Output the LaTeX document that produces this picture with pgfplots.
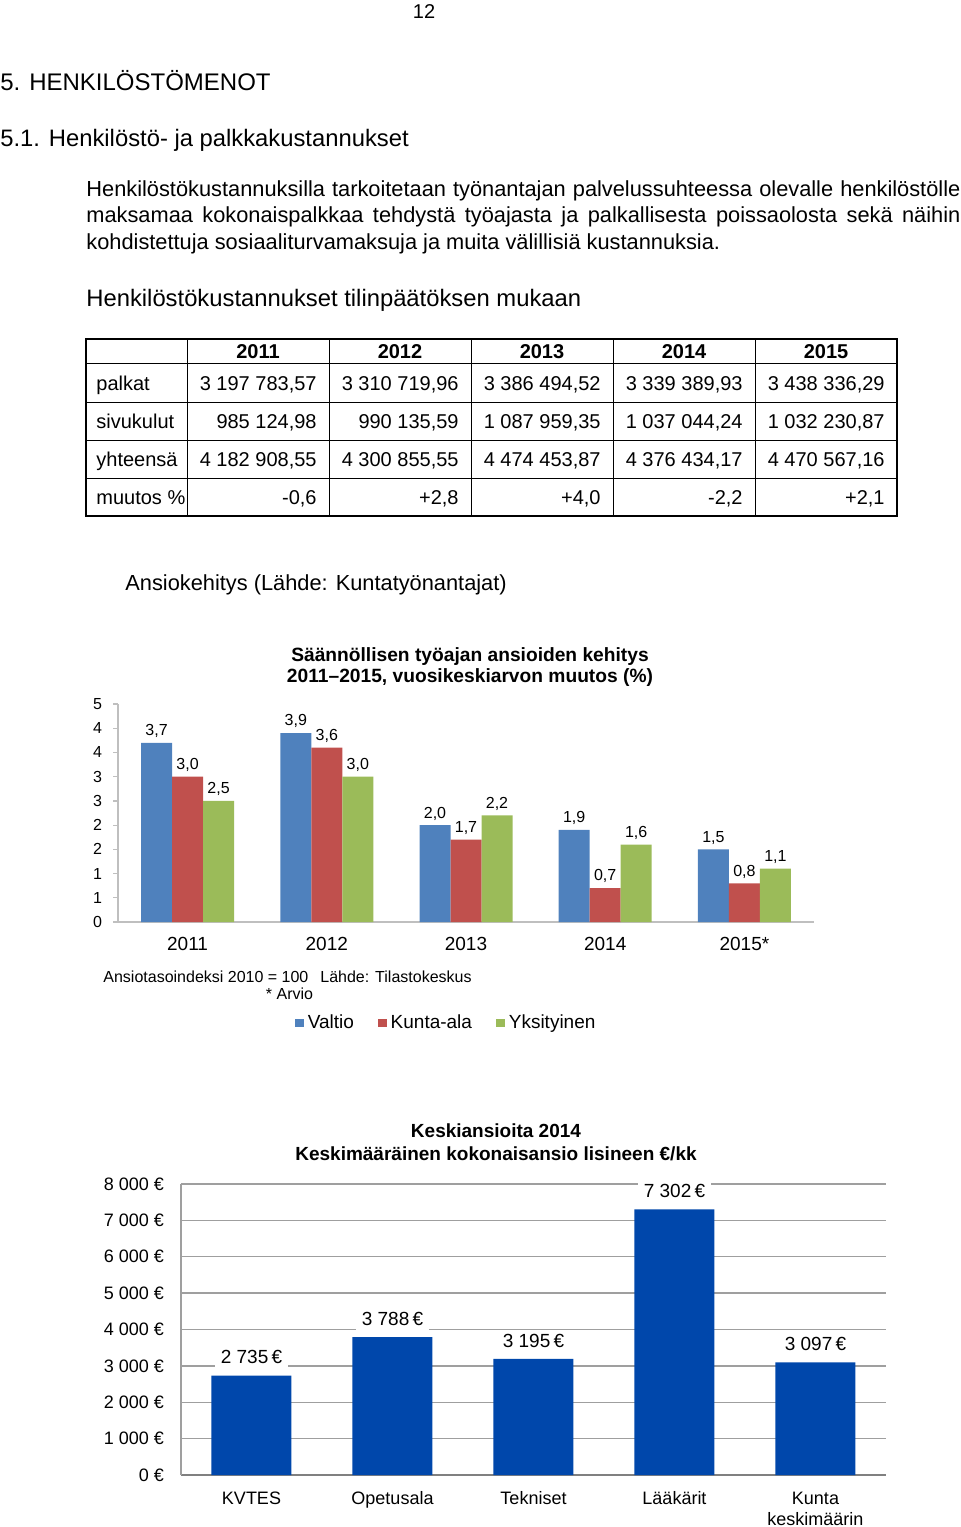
\documentclass[border=0pt]{standalone}
\usepackage{fontspec}
\setmainfont{Liberation Sans}
\usepackage{pgfplots}
\pgfplotsset{compat=1.18}

\definecolor{valtio}{HTML}{4F81BD}
\definecolor{kunta}{HTML}{C0504D}
\definecolor{yks}{HTML}{9BBB59}
\definecolor{keski}{HTML}{0047AB}

\pgfplotsset{sqlegend/.style={legend image code/.code={\fill[##1] (0pt,-2.2pt) rectangle (4.4pt,2.2pt);}}}

% table cell: right aligned number
\newcommand\num[3]{\node[anchor=base east,inner sep=0pt] at (#1,#2) {#3};}

\begin{document}
\begin{tikzpicture}
\useasboundingbox (0,0) rectangle (480pt,-763.5pt);

% --- page text
\node[anchor=base,inner sep=0pt] at (212pt,-9pt) {\fontsize{10}{12}\selectfont 12};
\node[anchor=base west,inner sep=0pt] at (0pt,-45.25pt) {\fontsize{12}{14}\selectfont 5. HENKILÖSTÖMENOT};
\node[anchor=base west,inner sep=0pt] at (0pt,-73pt) {\fontsize{11.9}{14}\selectfont 5.1. Henkilöstö- ja palkkakustannukset};

\begin{scope}[every node/.style={anchor=base west,inner sep=0pt,font=\fontsize{10.9}{13}\selectfont}]
\node at (43pt,-98pt) {\makebox[437pt][s]{Henkilöstökustannuksilla tarkoitetaan työnantajan palvelussuhteessa olevalle henkilöstölle}};
\node at (43pt,-111.25pt) {\makebox[437pt][s]{maksamaa kokonaispalkkaa tehdystä työajasta ja palkallisesta poissaolosta sekä näihin}};
\node at (43pt,-124.5pt) {kohdistettuja sosiaaliturvamaksuja ja muita välillisiä kustannuksia.};
\end{scope}

\node[anchor=base west,inner sep=0pt] at (43pt,-153pt) {\fontsize{11.9}{14}\selectfont Henkilöstökustannukset tilinpäätöksen mukaan};

% --- table
\draw[line width=0.55pt] (43pt,-169.5pt) rectangle (448.5pt,-258pt);
\foreach \y in {-181.5,-201,-220,-239} \draw[line width=0.45pt] (43pt,\y pt) -- (448.5pt,\y pt);
\foreach \x in {93.5,164.5,235.5,306.5,377.5} \draw[line width=0.45pt] (\x pt,-169.5pt) -- (\x pt,-258pt);
\begin{scope}[font=\fontsize{10}{12}\selectfont]
\foreach \x/\t in {129/2011,200/2012,271/2013,342/2014,413/2015}
  \node[anchor=base,inner sep=0pt,font=\fontsize{10}{12}\selectfont\bfseries] at (\x pt,-179pt) {\t};
\foreach \y/\t in {-195/palkat,-214/sivukulut,-233/yhteensä,-252/muutos \%}
  \node[anchor=base west,inner sep=0pt] at (48pt,\y pt) {\t};
\num{158.5pt}{-195pt}{3 197 783,57}
\num{229.5pt}{-195pt}{3 310 719,96}
\num{300.5pt}{-195pt}{3 386 494,52}
\num{371.5pt}{-195pt}{3 339 389,93}
\num{442.5pt}{-195pt}{3 438 336,29}
\num{158.5pt}{-214pt}{985 124,98}
\num{229.5pt}{-214pt}{990 135,59}
\num{300.5pt}{-214pt}{1 087 959,35}
\num{371.5pt}{-214pt}{1 037 044,24}
\num{442.5pt}{-214pt}{1 032 230,87}
\num{158.5pt}{-233pt}{4 182 908,55}
\num{229.5pt}{-233pt}{4 300 855,55}
\num{300.5pt}{-233pt}{4 474 453,87}
\num{371.5pt}{-233pt}{4 376 434,17}
\num{442.5pt}{-233pt}{4 470 567,16}
\num{158.5pt}{-252pt}{-0,6}
\num{229.5pt}{-252pt}{+2,8}
\num{300.5pt}{-252pt}{+4,0}
\num{371.5pt}{-252pt}{-2,2}
\num{442.5pt}{-252pt}{+2,1}
\end{scope}

\node[anchor=base west,inner sep=0pt] at (62.5pt,-295pt) {\fontsize{10.9}{13}\selectfont Ansiokehitys (Lähde: Kuntatyönantajat)};

% --- chart 1
\node[anchor=base,inner sep=0pt,font=\fontsize{9.6}{11}\selectfont\bfseries] at (235pt,-330.5pt) {Säännöllisen työajan ansioiden kehitys};
\node[anchor=base,inner sep=0pt,font=\fontsize{9.6}{11}\selectfont\bfseries] at (235pt,-341pt) {2011–2015, vuosikeskiarvon muutos (\%)};

\begin{axis}[
  at={(59pt,-461pt)}, anchor=south west,
  scale only axis, width=348pt, height=109pt,
  xmin=-0.5, xmax=4.5, ymin=0, ymax=4.5,
  ybar=0pt, bar width=15.5pt, clip=false,
  axis x line*=bottom, axis y line*=left,
  axis line style={draw=gray!50,line width=0.6pt},
  xtick={0,...,4}, xticklabels={2011,2012,2013,2014,{2015*}},
  xtick style={draw=none},
  ytick={0,0.5,...,4.5}, yticklabels={0,1,1,2,2,3,3,4,4,5},
  ytick style={draw=gray!50,line width=0.6pt},
  tick align=outside, major tick length=2.5pt,
  yticklabel style={font=\fontsize{8}{9}\selectfont,xshift=-2pt},
  xticklabel style={font=\fontsize{9.5}{11}\selectfont,yshift=-1.5pt},
  nodes near coords={\pgfmathprintnumber[fixed,fixed zerofill,precision=1,use comma,assume math mode=true]{\pgfplotspointmeta}},
  every node near coord/.append style={font=\fontsize{8}{9}\selectfont,black,yshift=-1pt},
  legend style={at={(0.473,-0.463)},anchor=center,draw=none,legend columns=3,
    font=\fontsize{9.5}{11}\selectfont,
    /tikz/every even column/.append style={column sep=10pt}},
]
\addplot[fill=valtio,draw=none,sqlegend]
  coordinates {(0,3.7) (1,3.9) (2,2.0) (3,1.9) (4,1.5)};
\addplot[fill=kunta,draw=none,sqlegend]
  coordinates {(0,3.0) (1,3.6) (2,1.7) (3,0.7) (4,0.8)};
\addplot[fill=yks,draw=none,sqlegend]
  coordinates {(0,2.5) (1,3.0) (2,2.2) (3,1.6) (4,1.1)};
\legend{Valtio,Kunta-ala,Yksityinen}
\end{axis}

\node[anchor=base west,inner sep=0pt,font=\fontsize{8}{9}\selectfont] at (51.5pt,-491pt) {Ansiotasoindeksi 2010 = 100\hspace{6pt}Lähde: Tilastokeskus};
\node[anchor=base,inner sep=0pt,font=\fontsize{8}{9}\selectfont] at (144.75pt,-499.5pt) {* Arvio};

% --- chart 2
\node[anchor=base,inner sep=0pt,font=\fontsize{9.5}{11}\selectfont\bfseries] at (248pt,-568.5pt) {Keskiansioita 2014};
\node[anchor=base,inner sep=0pt,font=\fontsize{9.5}{11}\selectfont\bfseries] at (248pt,-580pt) {Keskimääräinen kokonaisansio lisineen €/kk};

\begin{axis}[
  at={(90.5pt,-737.5pt)}, anchor=south west,
  scale only axis, width=352.5pt, height=145.5pt,
  xmin=-0.5, xmax=4.5, ymin=0, ymax=8000,
  ybar, bar width=40pt, clip=false,
  axis x line*=bottom, axis y line*=left,
  x axis line style={draw=gray,line width=0.9pt},
  y axis line style={draw=gray!75,line width=0.6pt},
  ymajorgrids, grid style={draw=gray!75,line width=0.7pt},
  xtick={0,...,4}, xticklabels={KVTES,Opetusala,Tekniset,Lääkärit,{Kunta\\keskimäärin}},
  xtick style={draw=none}, ytick style={draw=none},
  ytick={0,1000,...,8000},
  yticklabels={0 €,1 000 €,2 000 €,3 000 €,4 000 €,5 000 €,6 000 €,7 000 €,8 000 €},
  yticklabel style={font=\fontsize{9}{10}\selectfont,xshift=-5pt},
  xticklabel style={font=\fontsize{9}{10.5}\selectfont,align=center,yshift=-0.5pt},
  nodes near coords={\pgfmathprintnumber[1000 sep={\ },assume math mode=true]{\pgfplotspointmeta}\,€},
  every node near coord/.append style={font=\fontsize{9.5}{10}\selectfont,black,fill=white,inner xsep=3pt,inner ysep=2pt,yshift=3.5pt},
]
\addplot[fill=keski,draw=none] coordinates {(0,2735) (1,3788) (2,3195) (3,7302) (4,3097)};
\end{axis}

\end{tikzpicture}
\end{document}
